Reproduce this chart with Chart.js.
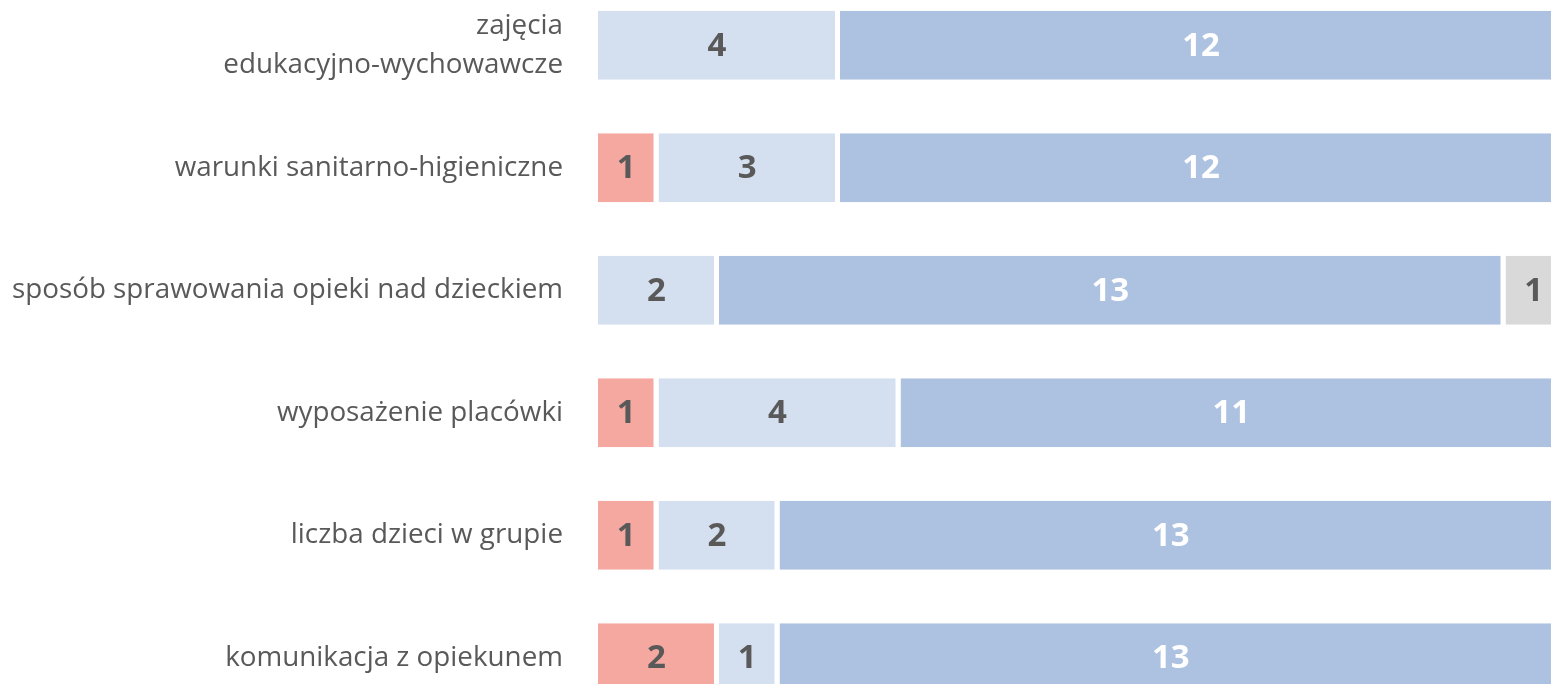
<!DOCTYPE html>
<html>
<head>
<meta charset="utf-8">
<script src="https://cdn.jsdelivr.net/npm/chart.js@4"></script>
<style>
  html, body { margin: 0; padding: 0; background: #fff; overflow: hidden; }
  #wrap { position: absolute; left: 0; top: -16px; width: 1566px; height: 735px; }
</style>
</head>
<body>
<div id="wrap"><canvas id="chart"></canvas></div>
<script>
const categories = [
  ['zajęcia', 'edukacyjno-wychowawcze'],
  'warunki sanitarno-higieniczne',
  'sposób sprawowania opieki nad dzieckiem',
  'wyposażenie placówki',
  'liczba dzieci w grupie',
  'komunikacja z opiekunem'
]
const negative = [null, 1, null, 1, 1, 2]
const neutral = [4, 3, 2, 4, 2, 1]
const positive = [12, 12, 13, 11, 13, 13]
const noAnswer = [null, null, 1, null, null, null]

const textGray = '#595959'

// draws the number in the middle of each segment
const valueLabels = {
  id: 'valueLabels',
  afterDatasetsDraw(chart) {
    const ctx = chart.ctx
    ctx.save()
    ctx.font = 'bold 33px "Open Sans"'
    ctx.textAlign = 'center'
    ctx.textBaseline = 'middle'
    chart.data.datasets.forEach((ds, i) => {
      const meta = chart.getDatasetMeta(i)
      meta.data.forEach((bar, j) => {
        const v = ds.data[j]
        if (v == null) return
        ctx.fillStyle = ds.labelColor
        ctx.fillText(String(v), (bar.x + bar.base) / 2 - 2, bar.y + 1)
      })
    })
    ctx.restore()
  }
}

const mk = (label, data, color, labelColor) => ({
  label: label,
  data: data,
  backgroundColor: color,
  borderColor: '#ffffff',
  borderWidth: { left: 0, right: 5, top: 0, bottom: 0 },
  borderSkipped: false,
  labelColor: labelColor,
  barPercentage: 1,
  categoryPercentage: 0.565
})

new Chart(document.getElementById('chart'), {
  type: 'bar',
  data: {
    labels: categories,
    datasets: [
      mk('negatywnie', negative, '#f4a8a0', textGray),
      mk('neutralnie', neutral, '#d4dfef', textGray),
      mk('pozytywnie', positive, '#adc2e1', '#ffffff'),
      mk('brak odpowiedzi', noAnswer, '#d9d9d9', textGray)
    ]
  },
  plugins: [valueLabels],
  options: {
    indexAxis: 'y',
    responsive: true,
    maintainAspectRatio: false,
    animation: false,
    layout: { padding: 0 },
    plugins: {
      legend: { display: false },
      tooltip: { enabled: false }
    },
    scales: {
      x: {
        stacked: true,
        display: false,
        min: 0,
        max: 16
      },
      y: {
        stacked: true,
        grid: { display: false, drawTicks: false },
        border: { display: false },
        afterFit: (s) => {
          s.width = 598
          s.paddingTop = 0
          s.paddingBottom = 0
        },
        ticks: {
          color: textGray,
          padding: 35,
          font: { family: '"Open Sans"', size: 27.8, lineHeight: 1.4 }
        }
      }
    }
  }
})
</script>
</body>
</html>
